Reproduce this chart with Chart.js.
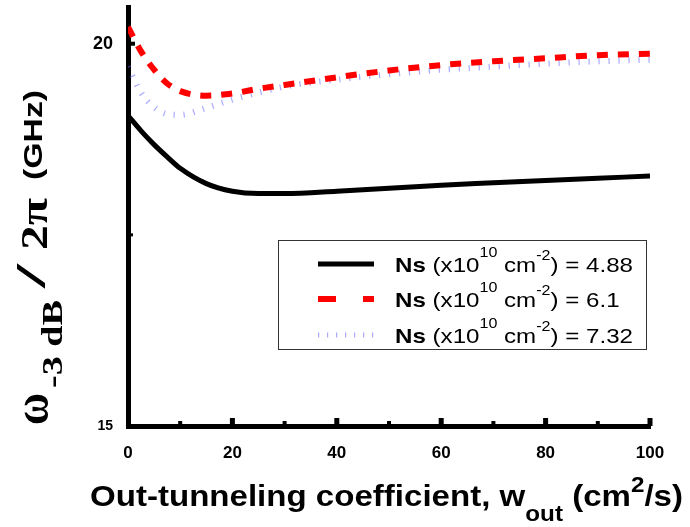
<!DOCTYPE html>
<html>
<head>
<meta charset="utf-8">
<script src="https://cdn.jsdelivr.net/npm/chart.js@4.4.1/dist/chart.umd.min.js"></script>
<style>
  html, body { margin: 0; padding: 0; background: #fff; }
  #wrap { width: 690px; height: 527px; }
</style>
</head>
<body>
<div id="wrap"><canvas id="myChart" width="690" height="527"></canvas></div>
<script>
// out-tunneling coefficient (cm^2/s)
const wValues = [0, 2.5, 5, 7.5, 10, 15, 20, 25, 30, 40, 50, 60, 70, 80, 90, 100];
// bandwidth f-3dB (GHz) for each Ns
const ns488 = [19.06, 18.86, 18.68, 18.52, 18.37, 18.17, 18.07, 18.04, 18.04, 18.07, 18.11, 18.15, 18.18, 18.21, 18.24, 18.27];
const ns61 = [20.22, 19.90, 19.66, 19.48, 19.38, 19.32, 19.35, 19.41, 19.46, 19.56, 19.65, 19.72, 19.77, 19.81, 19.85, 19.87];
const ns732 = [19.70, 19.36, 19.17, 19.08, 19.07, 19.16, 19.27, 19.36, 19.44, 19.53, 19.60, 19.66, 19.70, 19.74, 19.77, 19.79];
const nsLabels = ['4.88', '6.1', '7.32'];
const xTicks = [0, 20, 40, 60, 80, 100];
const xMinorTicks = [10, 30, 50, 70, 90];
const yTicks = [15, 20];
const yMinorTicks = [17.5];

function toPoints(arr) {
    return wValues.map((w, i) => ({ x: w, y: arr[i] }));
}

// a run of text pieces, each with its own font and vertical shift
function drawRich(ctx, x, y, parts) {
    parts.forEach(p => {
        ctx.font = p.font;
        ctx.fillText(p.t, x, y + (p.dy || 0));
        x += ctx.measureText(p.t).width;
    });
    return x;
}

function richWidth(ctx, parts) {
    let w = 0;
    parts.forEach(p => { ctx.font = p.font; w += ctx.measureText(p.t).width; });
    return w;
}

function drawRichScaled(ctx, x, y, parts, sx) {
    ctx.save();
    ctx.translate(x, y);
    ctx.scale(sx, 1);
    drawRich(ctx, 0, 0, parts);
    ctx.restore();
}

// one piece of the rotated title, stretched along the text to a given length
function fitText(ctx, t, u, len, v, font) {
    ctx.font = font;
    const m = ctx.measureText(t).width;
    ctx.save();
    ctx.translate(u, v);
    ctx.scale(len / m, 1);
    ctx.fillText(t, 0, 0);
    ctx.restore();
}

function legendParts(label) {
    return [
        { t: 'Ns', font: 'bold 21px "Liberation Sans"' },
        { t: ' (x10', font: '21px "Liberation Sans"' },
        { t: '10', font: '14px "Liberation Sans"', dy: -15 },
        { t: ' cm', font: '21px "Liberation Sans"' },
        { t: '-2', font: '14px "Liberation Sans"', dy: -12 },
        { t: ') = ' + label, font: '21px "Liberation Sans"' }
    ];
}

const decor = {
    id: 'decor',
    afterDraw(chart) {
        const ctx = chart.ctx;
        const xs = chart.scales.x;
        const ys = chart.scales.y;
        const bottom = ys.getPixelForValue(15);
        const left = xs.getPixelForValue(0);
        ctx.save();
        ctx.fillStyle = '#000';

        // inward tick marks
        xTicks.forEach(v => { if (v > 0) ctx.fillRect(xs.getPixelForValue(v) - 2.5, bottom - 8, 5, 8); });
        xMinorTicks.forEach(v => ctx.fillRect(xs.getPixelForValue(v) - 2, bottom - 5, 4, 5));
        ctx.fillRect(left, ys.getPixelForValue(20) - 2, 7, 4);
        yMinorTicks.forEach(v => ctx.fillRect(left, ys.getPixelForValue(v) - 1.5, 5, 3));

        // y axis title, rotated
        ctx.save();
        ctx.translate(0, 427);
        ctx.rotate(-Math.PI / 2);
        fitText(ctx, 'ω', 2, 32, 48, 'bold 48px "Liberation Serif"');
        fitText(ctx, '-3 dB', 39, 88, 62, 'bold 30px "Liberation Serif"');
        fitText(ctx, '/', 139, 24, 45, 'bold 42px "Liberation Serif"');
        fitText(ctx, '2π', 177, 52, 47, 'bold 38px "Liberation Serif"');
        fitText(ctx, '(GHz)', 247, 90, 42, 'bold 26px "Liberation Sans"');
        ctx.restore();

        // x axis title
        const xt = [
            { t: 'Out-tunneling coefficient, w', font: 'bold 30px "Liberation Sans"' },
            { t: 'out', font: 'bold 22px "Liberation Sans"', dy: 15 },
            { t: ' (cm', font: 'bold 30px "Liberation Sans"' },
            { t: '2', font: 'bold 22px "Liberation Sans"', dy: -14 },
            { t: '/s)', font: 'bold 30px "Liberation Sans"' }
        ];
        drawRichScaled(ctx, 90, 506, xt, 593 / richWidth(ctx, xt));

        // legend
        ctx.strokeStyle = '#333';
        ctx.lineWidth = 1;
        ctx.strokeRect(278.5, 240.5, 368, 109);
        const rowsY = [272, 307, 343];
        const sx = 238 / richWidth(ctx, legendParts(nsLabels[0]));
        chart.data.datasets.forEach((ds, i) => {
            const ly = rowsY[i] - 8;
            ctx.save();
            ctx.strokeStyle = ds.borderColor;
            ctx.lineWidth = i === 2 ? 5 : ds.borderWidth;
            ctx.setLineDash(i === 1 ? [18, 27] : (i === 2 ? [1.2, 7.8] : []));
            ctx.beginPath();
            ctx.moveTo(318, ly);
            ctx.lineTo(374, ly);
            ctx.stroke();
            ctx.restore();
            drawRichScaled(ctx, 395, rowsY[i], legendParts(nsLabels[i]), sx);
        });
        ctx.restore();
    }
};

new Chart(document.getElementById('myChart').getContext('2d'), {
    type: 'line',
    data: {
        datasets: [
            { label: 'Ns = ' + nsLabels[0], data: toPoints(ns488), borderColor: '#000000', borderWidth: 5 },
            { label: 'Ns = ' + nsLabels[1], data: toPoints(ns61), borderColor: '#ff0000', borderWidth: 6, borderDash: [11, 10] },
            { label: 'Ns = ' + nsLabels[2], data: toPoints(ns732), borderColor: 'rgba(100,100,255,0.55)', borderWidth: 6, borderDash: [1.2, 8.8] }
        ]
    },
    options: {
        responsive: false,
        animation: false,
        cubicInterpolationMode: 'monotone',
        elements: { point: { radius: 0 }, line: { fill: false } },
        layout: { padding: { top: 7, right: 40, left: 0, bottom: 0 } },
        plugins: { legend: { display: false }, tooltip: { enabled: false } },
        scales: {
            x: {
                type: 'linear',
                min: 0,
                max: 100,
                afterBuildTicks: s => { s.ticks = xTicks.map(v => ({ value: v })); },
                afterFit: s => { s.height = 101; s.paddingLeft = 0; s.paddingRight = 0; },
                grid: { display: false, drawTicks: false },
                border: { display: true, color: '#000', width: 5 },
                ticks: { padding: 17, color: '#000', font: { family: 'Liberation Sans', weight: 'bold', size: 17 }, maxRotation: 0 }
            },
            y: {
                min: 15,
                max: 20.48,
                afterBuildTicks: s => { s.ticks = yTicks.map(v => ({ value: v })); },
                afterFit: s => { s.width = 128; s.paddingTop = 0; s.paddingBottom = 0; },
                grid: { display: false, drawTicks: false },
                border: { display: true, color: '#000', width: 5 },
                ticks: {
                    padding: 15,
                    color: '#000',
                    font: ctx => ({ family: 'Liberation Sans', weight: 'bold', size: ctx.tick && ctx.tick.value === 15 ? 14 : 18 })
                }
            }
        }
    },
    plugins: [decor]
});
</script>
</body>
</html>
